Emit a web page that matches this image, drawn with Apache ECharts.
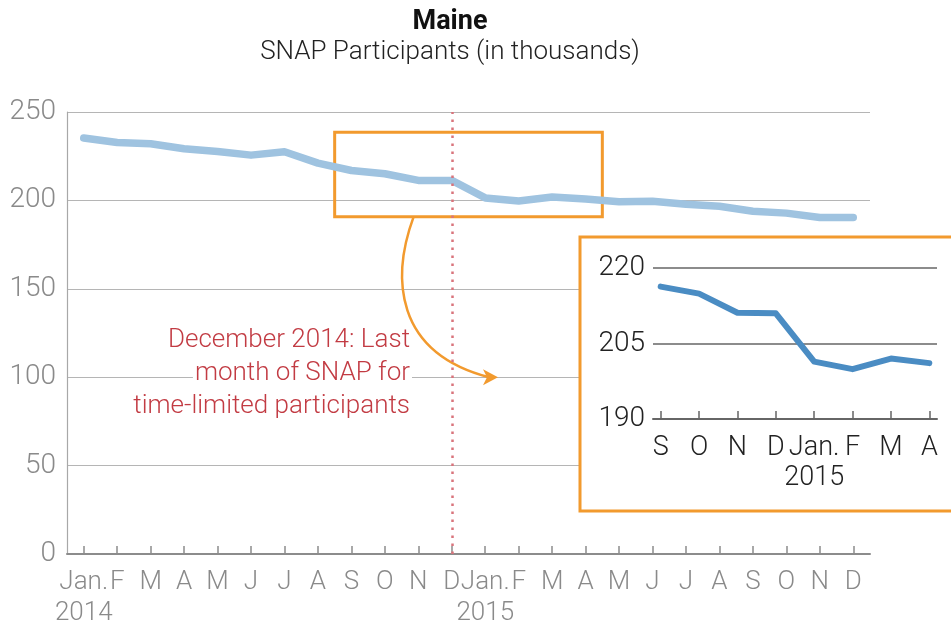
<!DOCTYPE html>
<html>
<head>
<meta charset="utf-8">
<script src="https://cdn.jsdelivr.net/npm/echarts@6/dist/echarts.min.js"></script>
<style>
  html, body { margin: 0; padding: 0; background: #fff; }
  #chart { width: 951px; height: 629px; }
</style>
</head>
<body>
<div id="chart"></div>
<script>
// main series: Jan 2014 - Dec 2015
const months = ['Jan.\n2014', 'F', 'M', 'A', 'M', 'J', 'J', 'A', 'S', 'O', 'N', 'D',
  'Jan.\n2015', 'F', 'M', 'A', 'M', 'J', 'J', 'A', 'S', 'O', 'N', 'D']
const participants = [235.3, 232.7, 232.0, 229.2, 227.7, 225.6, 227.5, 221.1, 216.9, 215.1, 211.3, 211.3,
  201.4, 199.7, 201.9, 200.8, 199.3, 199.5, 197.8, 196.7, 193.9, 192.8, 190.3, 190.3]
const yMin = 0
const yMax = 250
const yStep = 50

// zoomed inset: Sep 2014 - Apr 2015
const insetMonths = ['S', 'O', 'N', 'D', 'Jan.\n2015', 'F', 'M', 'A']
const insetValues = [216.3, 214.9, 211.1, 211.0, 201.4, 199.9, 202.0, 201.1]
const insetMin = 190
const insetMax = 220
const insetStep = 15

const cutoffIndex = 11 // December 2014
const boxFrom = 8 // Sep 2014
const boxTo = 15 // Apr 2015

const FONT = 'Roboto'
const ORANGE = '#f29a2e'

const chart = echarts.init(document.getElementById('chart'))

chart.setOption({
  animation: false,
  title: {
    text: 'Maine',
    subtext: 'SNAP Participants (in thousands)',
    left: 445,
    top: 4,
    textAlign: 'center',
    itemGap: 3,
    textStyle: { fontFamily: FONT, fontSize: 27, fontWeight: 'bold', color: '#111' },
    subtextStyle: { fontFamily: FONT, fontSize: 26, fontWeight: 300, color: '#222' }
  },
  grid: [
    { left: 67, right: 81, top: 112, bottom: 73 },
    { left: 653, right: 14, top: 268, bottom: 210 }
  ],
  xAxis: [
    {
      type: 'category',
      gridIndex: 0,
      data: months,
      boundaryGap: true,
      axisLine: { lineStyle: { color: '#8c8c8c', width: 2 } },
      axisTick: { show: true, alignWithLabel: true, inside: true, length: 8, interval: 0, lineStyle: { color: '#8c8c8c', width: 1.5 } },
      axisLabel: { interval: 0, margin: 13, fontFamily: FONT, fontWeight: 300, fontSize: 26, lineHeight: 31, color: '#8a8a8a' }
    },
    {
      type: 'value',
      gridIndex: 1,
      min: -0.2,
      max: insetMonths.length - 0.8,
      z: 5,
      splitLine: { show: false },
      axisLine: { lineStyle: { color: '#666', width: 2 } },
      axisTick: { show: true, inside: true, length: 8, customValues: insetMonths.map((m, i) => i), lineStyle: { color: '#666', width: 1.5 } },
      axisLabel: {
        customValues: insetMonths.map((m, i) => i),
        formatter: v => insetMonths[Math.round(v)],
        margin: 14, fontFamily: FONT, fontWeight: 300, fontSize: 27, lineHeight: 30, color: '#222'
      }
    }
  ],
  yAxis: [
    {
      type: 'value',
      gridIndex: 0,
      min: yMin,
      max: yMax,
      interval: yStep,
      axisLine: { show: true, lineStyle: { color: '#a8a8a8', width: 1.2 } },
      axisTick: { show: false },
      splitLine: { lineStyle: { color: '#b5b5b5', width: 1.2 } },
      axisLabel: { margin: 11, fontFamily: FONT, fontWeight: 300, fontSize: 28, color: '#8a8a8a' }
    },
    {
      type: 'value',
      gridIndex: 1,
      min: insetMin,
      max: insetMax,
      interval: insetStep,
      z: 5,
      axisLine: { show: false },
      axisTick: { show: false },
      splitLine: { lineStyle: { color: '#666', width: 1.5 } },
      axisLabel: { margin: 8, fontFamily: FONT, fontWeight: 300, fontSize: 28, color: '#222' }
    }
  ],
  series: [
    {
      type: 'line',
      xAxisIndex: 0,
      yAxisIndex: 0,
      data: participants,
      showSymbol: false,
      lineStyle: { color: '#9fc3e0', width: 7.5, cap: 'round', join: 'round' },
      markLine: {
        silent: true,
        symbol: 'none',
        label: { show: false },
        lineStyle: { color: '#d9747c', width: 2.5, type: [2.5, 5.5] },
        data: [{ xAxis: cutoffIndex }]
      }
    },
    {
      type: 'line',
      xAxisIndex: 1,
      yAxisIndex: 1,
      z: 6,
      data: insetValues.map((v, i) => [i, v]),
      showSymbol: false,
      lineStyle: { color: '#4a8cc3', width: 6, cap: 'round', join: 'round' }
    }
  ]
})

// annotations placed from the main axes
const p0 = chart.convertToPixel({ gridIndex: 0 }, [0, 0])
const p1 = chart.convertToPixel({ gridIndex: 0 }, [1, 0])
const half = (p1[0] - p0[0]) / 2
const boxL = chart.convertToPixel({ gridIndex: 0 }, [boxFrom, 238.5])
const boxR = chart.convertToPixel({ gridIndex: 0 }, [boxTo, 190.8])
const bx = boxL[0] - half
const by = boxL[1]
const bw = boxR[0] + half - bx
const bh = boxR[1] - by
const y100 = chart.convertToPixel({ gridIndex: 0 }, [0, 100])[1]

const ax0 = bx + 79
const ay0 = by + bh
const ax1 = 489
const ay1 = y100

chart.setOption({
  graphic: [
    {
      type: 'rect',
      z: 3,
      shape: { x: bx, y: by, width: bw, height: bh },
      style: { fill: 'none', stroke: ORANGE, lineWidth: 3 }
    },
    {
      type: 'bezierCurve',
      z: 3,
      shape: { x1: ax0, y1: ay0, cpx1: ax0 - 22, cpy1: ay0 + 60, cpx2: ax0 - 20, cpy2: ay1 - 25, x2: ax1, y2: ay1 },
      style: { fill: 'none', stroke: ORANGE, lineWidth: 2.5 }
    },
    {
      type: 'polygon',
      z: 3,
      shape: { points: [[ax1 + 9, ay1], [ax1 - 6, ay1 - 8], [ax1 - 2, ay1], [ax1 - 6, ay1 + 8]] },
      style: { fill: ORANGE }
    },
    {
      type: 'text',
      z: 3,
      x: 412,
      y: 324,
      style: {
        text: '{a|December 2014: Last}\n{a|month of SNAP for}\n{a|time-limited participants}',
        align: 'right',
        fill: '#c23b43',
        rich: {
          a: { fontFamily: FONT, fontWeight: 300, fontSize: 26, lineHeight: 33, fill: '#c23b43', backgroundColor: '#fff', padding: [0, 2] }
        }
      }
    },
    {
      type: 'rect',
      z: 1,
      shape: { x: 580, y: 237, width: 380, height: 274 },
      style: { fill: '#fff', stroke: ORANGE, lineWidth: 3 }
    }
  ]
})
</script>
</body>
</html>
